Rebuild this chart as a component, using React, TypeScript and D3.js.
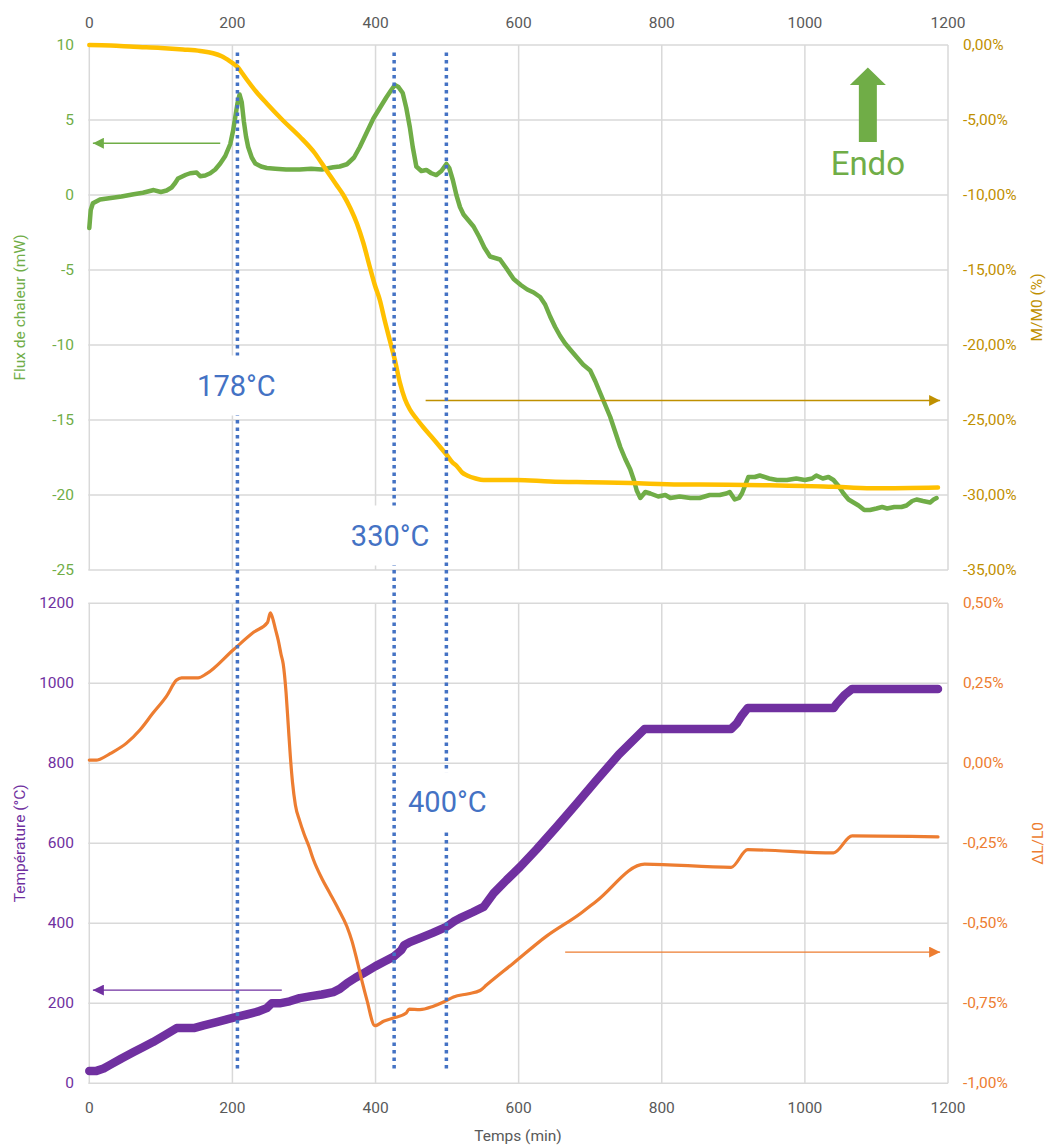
import * as d3 from 'd3';

// time (min) vs heat flux (mW)
const FLUX: [number, number][] = [
  [0, -2.2], [2, -1.0], [5, -0.55], [15, -0.3], [30, -0.2], [45, -0.1], [62, 0.05], [75, 0.15], [90, 0.33],
  [100, 0.2], [108, 0.3], [115, 0.5], [120, 0.8], [124, 1.1], [135, 1.35], [141, 1.45], [150, 1.5], [155, 1.25],
  [162, 1.3], [169, 1.45], [176, 1.7], [183, 2.1], [190, 2.6], [197, 3.4], [201, 4.3], [204, 5.2], [207, 6.1],
  [210, 6.7], [213, 6.2], [216, 4.9], [219, 3.9], [222, 3.2], [227, 2.5], [232, 2.1], [240, 1.9], [248, 1.8],
  [260, 1.75], [275, 1.7], [294, 1.7], [310, 1.75], [325, 1.7], [341, 1.85], [350, 1.9], [360, 2.05], [370, 2.5],
  [378, 3.2], [388, 4.2], [397, 5.1], [406, 5.8], [415, 6.5], [422, 7.0], [427, 7.33], [432, 7.2], [438, 6.8],
  [443, 5.8], [448, 4.5], [452, 3.2], [457, 1.9], [464, 1.6], [471, 1.67], [478, 1.45], [485, 1.33], [492, 1.6],
  [499, 2.07], [503, 1.8], [508, 1.0], [513, 0.0], [518, -0.8], [523, -1.3], [530, -1.7], [537, -2.1], [545, -2.8],
  [552, -3.5], [560, -4.1], [567, -4.2], [574, -4.3], [583, -4.9], [593, -5.6], [603, -6.0], [612, -6.3],
  [621, -6.5], [630, -6.8], [637, -7.3], [644, -8.1], [651, -8.8], [658, -9.4], [665, -9.9], [672, -10.3],
  [681, -10.8], [690, -11.3], [700, -11.7], [707, -12.4], [714, -13.2], [721, -14.0], [728, -14.8], [735, -15.8],
  [742, -16.8], [749, -17.6], [756, -18.3], [761, -19.0], [765, -19.7], [770, -20.2], [777, -19.8], [784, -19.9],
  [795, -20.1], [805, -20.0], [812, -20.2], [825, -20.1], [840, -20.2], [853, -20.2], [867, -20.0], [881, -20.0],
  [890, -19.9], [895, -19.8], [902, -20.3], [908, -20.2], [912, -19.9], [917, -19.3], [921, -18.8], [930, -18.8],
  [937, -18.7], [950, -18.9], [961, -19.0], [975, -19.0], [988, -18.9], [1000, -19.0], [1010, -18.9], [1016, -18.7],
  [1025, -18.9], [1033, -18.8], [1040, -19.0], [1047, -19.4], [1054, -19.9], [1061, -20.3], [1068, -20.5],
  [1075, -20.7], [1083, -21.0], [1091, -21.0], [1100, -20.9], [1108, -20.8], [1115, -20.9], [1125, -20.8],
  [1135, -20.8], [1142, -20.7], [1150, -20.4], [1156, -20.3], [1165, -20.4], [1175, -20.5], [1180, -20.3], [1184, -20.2],
];

// time (min) vs M/M0 (%)
const MASS: [number, number][] = [
  [0, 0], [30, -0.03], [62, -0.12], [100, -0.2], [131, -0.3], [155, -0.4], [173, -0.55], [185, -0.75], [197, -1.1],
  [203, -1.3], [208, -1.5], [214, -1.9], [220, -2.3], [233, -3.1], [248, -3.9], [270, -5.0], [294, -6.1],
  [315, -7.2], [332, -8.4], [345, -9.3], [355, -10.0], [365, -10.9], [374, -11.9], [383, -13.2], [392, -14.8],
  [399, -16.0], [406, -17.0], [413, -18.4], [420, -19.7], [427, -21.0], [434, -22.5], [441, -23.6], [448, -24.3],
  [457, -24.9], [467, -25.5], [476, -26.0], [485, -26.5], [492, -26.9], [499, -27.3], [507, -27.8], [514, -28.1],
  [521, -28.5], [528, -28.7], [540, -28.9], [551, -29.0], [597, -29.0], [644, -29.1], [700, -29.15], [756, -29.2],
  [825, -29.3], [853, -29.3], [950, -29.35], [1040, -29.45], [1063, -29.5], [1100, -29.55], [1186, -29.5],
];

// time (min) vs temperature (°C)
const TEMP: [number, number][] = [
  [0, 31], [10, 31], [20, 37], [29, 46], [45, 62], [62, 78], [75, 90], [89, 103], [105, 120], [122, 138],
  [146, 138], [160, 145], [178, 153], [195, 161], [206, 166], [220, 172], [235, 179], [248, 188], [255, 200],
  [266, 200], [280, 205], [294, 213], [310, 218], [325, 222], [341, 228], [350, 236], [360, 250], [372, 264],
  [383, 275], [400, 293], [413, 305], [425, 316], [436, 333], [440, 345], [448, 353], [462, 363], [480, 376],
  [499, 391], [510, 405], [518, 413], [535, 427], [551, 441], [565, 475], [583, 508], [602, 541], [625, 585],
  [653, 641], [680, 697], [709, 758], [740, 822], [776, 886], [897, 886], [905, 900], [912, 920], [920, 938],
  [1040, 938], [1045, 950], [1055, 970], [1066, 986], [1186, 986],
];

// time (min) vs ΔL/L0 (%)
const DL: [number, number][] = [
  [0, 0.01], [10, 0.01], [15, 0.013], [29, 0.03], [52, 0.063], [71, 0.105], [89, 0.157], [108, 0.21], [122, 0.26],
  [129, 0.267], [152, 0.267], [164, 0.28], [201, 0.354], [230, 0.41], [249, 0.44], [253, 0.47], [256, 0.455],
  [260, 0.42], [264, 0.385], [268, 0.34], [271, 0.31], [275, 0.22], [278, 0.12], [281, 0.02], [284, -0.06],
  [288, -0.13], [294, -0.18], [300, -0.22], [307, -0.26], [313, -0.3], [325, -0.36], [336, -0.405], [348, -0.455],
  [360, -0.51], [367, -0.555], [374, -0.615], [381, -0.68], [388, -0.74], [399, -0.82], [412, -0.805],
  [425, -0.796], [443, -0.78], [447, -0.768], [462, -0.77], [480, -0.76], [495, -0.746], [509, -0.73],
  [530, -0.72], [546, -0.71], [555, -0.693], [593, -0.624], [639, -0.54], [686, -0.47], [709, -0.43],
  [776, -0.315], [897, -0.325], [920, -0.27], [1040, -0.28], [1066, -0.227], [1186, -0.23],
];

const X_TICKS = [0, 200, 400, 600, 800, 1000, 1200];
const FLUX_TICKS = [10, 5, 0, -5, -10, -15, -20, -25];
const MASS_TICKS = [0, -5, -10, -15, -20, -25, -30, -35];
const TEMP_TICKS = [0, 200, 400, 600, 800, 1000, 1200];
const DL_TICKS = [0.5, 0.25, 0, -0.25, -0.5, -0.75, -1];

const EVENT_TIMES = [207, 426, 499];
const EVENT_LABELS = ['178°C', '330°C', '400°C'];

const GREEN = '#70AD47';
const GOLD = '#FFC000';
const GOLD_DARK = '#BF9000';
const ORANGE = '#ED7D31';
const PURPLE = '#7030A0';
const BLUE = '#4472C4';
const GRID = '#d9d9d9';
const GRAY = '#595959';
const FONT = 'Roboto, sans-serif';

const pct = (v: number) => v.toFixed(2).replace('.', ',').replace('-0,00', '0,00') + '%';

export default function App() {
  const x = d3.scaleLinear().domain([0, 1200]).range([89.3, 948]);
  const yFlux = d3.scaleLinear().domain([-25, 10]).range([570, 45]);
  const yMass = d3.scaleLinear().domain([-35, 0]).range([570, 45]);
  const yTemp = d3.scaleLinear().domain([0, 1200]).range([1083.3, 603.3]);
  const yDL = d3.scaleLinear().domain([-1, 0.5]).range([1083.3, 603.3]);

  const lineOf = (y: d3.ScaleLinear<number, number>, curve = d3.curveLinear) =>
    d3.line<[number, number]>().x(d => x(d[0])).y(d => y(d[1])).curve(curve);

  const [x0, x1] = x.range();

  // event label placement (panel scale + value)
  const labelPos = [
    { cx: x(EVENT_TIMES[0]) - 1, cy: yFlux(-12.7) },
    { cx: x(EVENT_TIMES[1]) - 4, cy: yFlux(-22.7) },
    { cx: x(EVENT_TIMES[2]) + 1, cy: yTemp(703) },
  ];

  // Endo arrow geometry
  const ex = x(1088);
  const eTop = yFlux(8.5);
  const eHead = yFlux(7.33);
  const eBot = yFlux(3.53);

  return (
    <svg width={1048} height={1145} style={{ position: 'absolute', left: 0, top: 0, background: '#fff' }} fontFamily={FONT}>
      <defs>
        {[['g', GREEN], ['o', GOLD_DARK], ['p', PURPLE], ['r', ORANGE]].map(([id, c]) => (
          <marker key={id} id={`ah-${id}`} viewBox="0 0 10 10" refX={10} refY={5} markerWidth={11} markerHeight={11}
            markerUnits="userSpaceOnUse" orient="auto">
            <path d="M0,0 L10,5 L0,10 z" fill={c} />
          </marker>
        ))}
      </defs>

      {/* grids */}
      <g stroke={GRID} strokeWidth={1.5} fill="none">
        {FLUX_TICKS.map(t => <line key={'hf' + t} x1={x0 - 1} x2={x1} y1={yFlux(t)} y2={yFlux(t)} />)}
        {X_TICKS.map(t => <line key={'vf' + t} x1={x(t)} x2={x(t)} y1={yFlux(10)} y2={yFlux(-25)} />)}
        {TEMP_TICKS.map(t => <line key={'ht' + t} x1={x0 - 1} x2={x1} y1={yTemp(t)} y2={yTemp(t)} />)}
        {X_TICKS.map(t => <line key={'vt' + t} x1={x(t)} x2={x(t)} y1={yTemp(1200)} y2={yTemp(0)} />)}
      </g>

      {/* x tick labels */}
      <g fill={GRAY} fontSize={15.5} textAnchor="middle">
        {X_TICKS.map(t => <text key={'xt' + t} x={x(t)} y={28}>{t}</text>)}
        {X_TICKS.map(t => <text key={'xb' + t} x={x(t)} y={1113}>{t}</text>)}
      </g>
      <text x={518} y={1141} fill={GRAY} fontSize={15.5} textAnchor="middle">Temps (min)</text>

      {/* y tick labels */}
      <g fontSize={15.5} dominantBaseline="central">
        {FLUX_TICKS.map(t => <text key={'lf' + t} x={74} y={yFlux(t)} fill={GREEN} textAnchor="end">{t}</text>)}
        {MASS_TICKS.map(t => <text key={'rm' + t} x={963} y={yMass(t)} fill={GOLD_DARK} textAnchor="start">{pct(t)}</text>)}
        {TEMP_TICKS.map(t => <text key={'lt' + t} x={74} y={yTemp(t)} fill={PURPLE} textAnchor="end">{t}</text>)}
        {DL_TICKS.map(t => <text key={'rd' + t} x={963} y={yDL(t)} fill={ORANGE} textAnchor="start">{pct(t)}</text>)}
      </g>

      {/* axis titles */}
      <g fontSize={15.5} textAnchor="middle" dominantBaseline="central">
        <text transform={`translate(20,${yFlux(-7.5)}) rotate(-90)`} fill={GREEN}>Flux de chaleur (mW)</text>
        <text transform={`translate(1037,${yMass(-17.5)}) rotate(-90)`} fill={GOLD_DARK}>M/M0 (%)</text>
        <text transform={`translate(20,${yTemp(600)}) rotate(-90)`} fill={PURPLE}>Température (°C)</text>
        <text transform={`translate(1038,${yDL(-0.25)}) rotate(-90)`} fill={ORANGE}>ΔL/L0</text>
      </g>

      {/* series */}
      <path d={lineOf(yFlux)(FLUX) || ''} fill="none" stroke={GREEN} strokeWidth={4.5} strokeLinejoin="round" strokeLinecap="round" />
      <path d={lineOf(yMass, d3.curveMonotoneX)(MASS) || ''} fill="none" stroke={GOLD} strokeWidth={4.5} strokeLinejoin="round" strokeLinecap="round" />
      <path d={lineOf(yTemp)(TEMP) || ''} fill="none" stroke={PURPLE} strokeWidth={8.5} strokeLinejoin="round" strokeLinecap="round" />
      <path d={lineOf(yDL, d3.curveMonotoneX)(DL) || ''} fill="none" stroke={ORANGE} strokeWidth={3.2} strokeLinejoin="round" strokeLinecap="round" />

      {/* axis arrows */}
      <line x1={x(183)} x2={x(5)} y1={yFlux(3.45)} y2={yFlux(3.45)} stroke={GREEN} strokeWidth={1.3} markerEnd="url(#ah-g)" />
      <line x1={x(470)} x2={x(1189)} y1={yMass(-23.7)} y2={yMass(-23.7)} stroke={GOLD_DARK} strokeWidth={1.3} markerEnd="url(#ah-o)" />
      <line x1={x(269)} x2={x(5)} y1={yTemp(233)} y2={yTemp(233)} stroke={PURPLE} strokeWidth={1.3} markerEnd="url(#ah-p)" />
      <line x1={x(665)} x2={x(1189)} y1={yDL(-0.59)} y2={yDL(-0.59)} stroke={ORANGE} strokeWidth={1.3} markerEnd="url(#ah-r)" />

      {/* event lines */}
      {EVENT_TIMES.map(t => (
        <line key={'ev' + t} x1={x(t)} x2={x(t)} y1={yFlux(9.5)} y2={yTemp(28)} stroke={BLUE}
          strokeWidth={3.5} strokeDasharray="3.5,4" />
      ))}
      {EVENT_LABELS.map((lab, i) => (
        <g key={lab}>
          <rect x={labelPos[i].cx - 42} y={labelPos[i].cy - 30} width={84} height={60} fill="#fff" />
          <text x={labelPos[i].cx} y={labelPos[i].cy} fill={BLUE} fontSize={29} textAnchor="middle" dominantBaseline="central">{lab}</text>
        </g>
      ))}

      {/* Endo arrow */}
      <path
        d={`M${ex - 9},${eBot} L${ex + 9},${eBot} L${ex + 9},${eHead} L${ex + 18},${eHead} L${ex},${eTop} L${ex - 18},${eHead} L${ex - 9},${eHead} Z`}
        fill={GREEN}
      />
      <text x={ex} y={yFlux(1.33)} fill={GREEN} fontSize={33} textAnchor="middle">Endo</text>
    </svg>
  );
}
